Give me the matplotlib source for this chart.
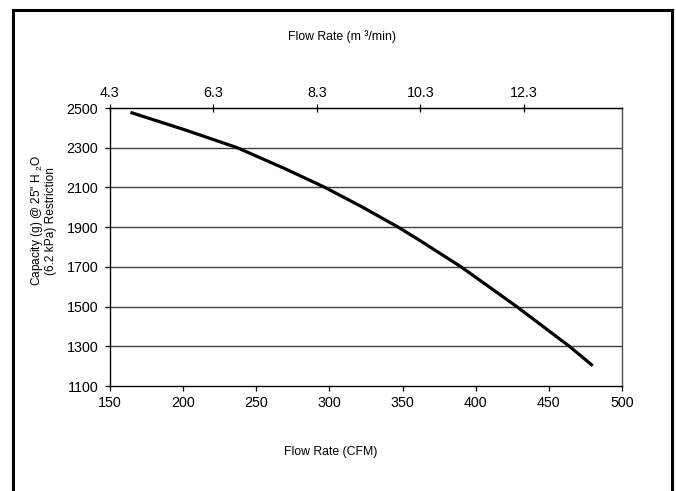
import matplotlib
matplotlib.use("Agg")
import matplotlib.pyplot as plt
from matplotlib.lines import Line2D

plt.rcParams['font.family'] = ['Liberation Sans', 'DejaVu Sans']
plt.rcParams['mathtext.fontset'] = 'custom'
plt.rcParams['mathtext.rm'] = 'Liberation Sans'
plt.rcParams['mathtext.it'] = 'Liberation Sans'

# Data
flow_cfm = [164, 202, 237, 270, 297, 322, 347, 362, 390, 428, 464, 480]
capacity_g = [2478, 2388, 2300, 2193, 2100, 2003, 1900, 1832, 1700, 1500, 1300, 1202]

x_ticks = [150, 200, 250, 300, 350, 400, 450, 500]
y_ticks = [1100, 1300, 1500, 1700, 1900, 2100, 2300, 2500]
top_ticks = [4.3, 6.3, 8.3, 10.3, 12.3]
top_labels = ["4.3", "6.3", "8.3", "10.3", "12.3"]

W, H = 676, 491
fig = plt.figure(figsize=(W / 100, H / 100), dpi=100)
fig.patch.set_facecolor('white')

ax = fig.add_axes([110 / W, 1 - 386 / H, (622 - 110) / W, (386 - 108) / H])
ax.plot(flow_cfm, capacity_g, color='black', lw=2.3, solid_capstyle='butt',
        solid_joinstyle='round', zorder=3)

ax.set_xlim(150, 500)
ax.set_ylim(1100, 2500)
ax.set_xticks(x_ticks)
ax.set_yticks(y_ticks)
ax.tick_params(axis='both', direction='out', length=3.5, width=0.9, labelsize=10.3, colors='black')
ax.tick_params(axis='y', pad=5)
ax.tick_params(axis='x', pad=3.5)
for y in y_ticks[1:-1]:
    ax.axhline(y, color='#404040', lw=1.0, zorder=1)
for s in ['left', 'bottom', 'top']:
    ax.spines[s].set_color('black')
    ax.spines[s].set_linewidth(1.0)
ax.spines['right'].set_color('#505050')
ax.spines['right'].set_linewidth(1.0)

ax2 = ax.twiny()
ax2.set_xlim(4.3, 14.2)
ax2.set_xticks(top_ticks)
ax2.set_xticklabels(top_labels)
ax2.tick_params(axis='x', direction='inout', length=6, width=0.9, labelsize=10.3, pad=2.5)
for s in ['left', 'bottom', 'right']:
    ax2.spines[s].set_visible(False)
ax2.spines['top'].set_color('black')

fig.text(342 / W, 1 - 37 / H, "Flow Rate (m \u00b3/min)", ha='center', va='center', fontsize=8.8)
fig.text(331 / W, 1 - 452 / H, "Flow Rate (CFM)", ha='center', va='center', fontsize=8.8)
fig.text(43 / W, 1 - 221 / H, "Capacity (g) @ 25\" H $_{2}$O\n(6.2 kPa) Restriction",
         ha='center', va='center', rotation=90, fontsize=8.6, linespacing=1.0, multialignment='center')

# Outer frame (left, top, right)
lw = 2.2
xl, xr, yt = 12.5 / W, 671.5 / W, 1 - 9.5 / H
fig.add_artist(Line2D([xl, xl], [-0.01, yt], transform=fig.transFigure, color='black', lw=lw))
fig.add_artist(Line2D([xl, xr], [yt, yt], transform=fig.transFigure, color='black', lw=lw, solid_capstyle='projecting'))
fig.add_artist(Line2D([xr, xr], [-0.01, yt], transform=fig.transFigure, color='black', lw=lw))

fig.savefig("out.png", dpi=100)
